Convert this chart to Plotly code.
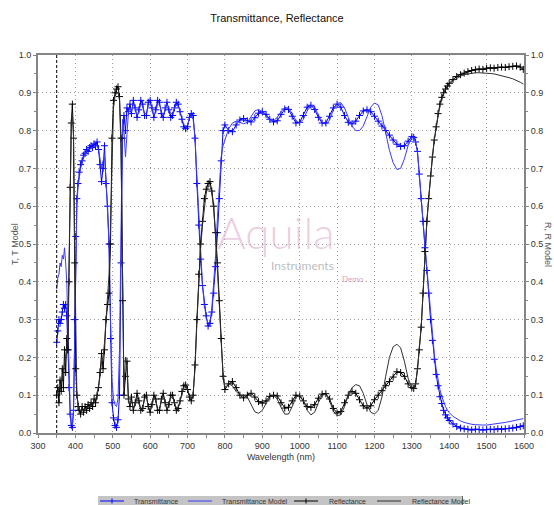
import plotly.graph_objects as go

# ---------------- data ----------------
wavelength = [
    350, 353, 356, 359, 362, 365, 368, 371, 374, 377, 380, 383, 386, 389, 392, 395, 398, 401, 404, 407,
    410, 414, 418, 422, 426, 430, 434, 438, 442, 446, 450, 454, 458, 462, 466, 470, 474, 478, 482, 486,
    490, 494, 498, 502, 506, 510, 514, 518, 522, 526, 530, 534, 538, 542,
    546, 550, 555, 560, 565, 570, 575, 580, 585, 590, 595, 600, 605, 610, 615, 620, 625, 630, 635, 640,
    645, 650, 655, 660, 665, 670, 675, 680, 685, 690, 695, 700, 705, 710, 715, 720, 725, 730, 735, 740,
    745, 750, 755, 760, 765, 770, 775, 780, 785, 790, 795, 800,
    810, 820, 830, 840, 850, 860, 870, 880, 890, 900, 910, 920, 930, 940, 950, 960, 970, 980, 990, 1000,
    1010, 1020, 1030, 1040, 1050, 1060, 1070, 1080, 1090, 1100, 1110, 1120, 1130, 1140, 1150, 1160, 1170, 1180, 1190, 1200,
    1210, 1220, 1230, 1240, 1250, 1260, 1270, 1280, 1290, 1300,
    1305, 1310, 1315, 1320, 1325, 1330, 1335, 1340, 1345, 1350, 1355, 1360, 1365, 1370, 1375, 1380, 1385, 1390, 1395, 1400,
    1410, 1420, 1430, 1440, 1450, 1460, 1470, 1480, 1490, 1500, 1510, 1520, 1530, 1540, 1550, 1560, 1570, 1580, 1590, 1598,
]

transmittance = [
    0.24, 0.27, 0.30, 0.29, 0.30, 0.32, 0.34, 0.33, 0.34, 0.31, 0.22, 0.12, 0.05, 0.02, 0.015, 0.06, 0.30, 0.52, 0.62, 0.66,
    0.69, 0.71, 0.72, 0.735, 0.74, 0.75, 0.745, 0.755, 0.76, 0.755, 0.765, 0.76, 0.77, 0.75, 0.71, 0.665, 0.70, 0.76, 0.66, 0.60,
    0.50, 0.25, 0.08, 0.04, 0.02, 0.015, 0.035, 0.10, 0.45, 0.78, 0.84, 0.80, 0.86, 0.85,
    0.87, 0.845, 0.88, 0.86, 0.835, 0.855, 0.88, 0.87, 0.84, 0.84, 0.875, 0.88, 0.86, 0.835, 0.855, 0.88, 0.875, 0.845, 0.835, 0.86,
    0.875, 0.855, 0.835, 0.84, 0.86, 0.875, 0.87, 0.85, 0.83, 0.81, 0.805, 0.81, 0.835, 0.845, 0.84, 0.78, 0.66, 0.55, 0.46, 0.39,
    0.34, 0.31, 0.283, 0.29, 0.32, 0.37, 0.44, 0.53, 0.62, 0.72, 0.80, 0.815,
    0.80, 0.797, 0.815, 0.828, 0.832, 0.826, 0.823, 0.834, 0.846, 0.85, 0.843, 0.83, 0.823, 0.826, 0.843, 0.857, 0.856, 0.838, 0.82, 0.822,
    0.84, 0.862, 0.867, 0.856, 0.835, 0.82, 0.82, 0.838, 0.86, 0.87, 0.862, 0.84, 0.822, 0.818, 0.825, 0.84, 0.852, 0.855, 0.85, 0.838,
    0.825, 0.812, 0.80, 0.788, 0.775, 0.764, 0.758, 0.76, 0.772, 0.784,
    0.782, 0.77, 0.745, 0.685, 0.62, 0.56, 0.49, 0.43, 0.37, 0.30, 0.245, 0.195, 0.155, 0.125, 0.096, 0.078, 0.06, 0.048, 0.04, 0.033,
    0.024, 0.017, 0.013, 0.011, 0.010, 0.008, 0.010, 0.009, 0.008, 0.009, 0.010, 0.009, 0.011, 0.010, 0.011, 0.012, 0.013, 0.015, 0.017, 0.019,
]

transmittance_model = [
    0.38, 0.41, 0.42, 0.45, 0.44, 0.47, 0.46, 0.49, 0.45, 0.40, 0.28, 0.16, 0.07, 0.03, 0.02, 0.06, 0.28, 0.50, 0.60, 0.65,
    0.68, 0.70, 0.715, 0.73, 0.74, 0.745, 0.75, 0.75, 0.755, 0.755, 0.76, 0.76, 0.76, 0.75, 0.73, 0.70, 0.72, 0.73, 0.67, 0.59,
    0.50, 0.30, 0.14, 0.09, 0.075, 0.07, 0.09, 0.22, 0.60, 0.83, 0.80, 0.73, 0.79, 0.85,
    0.86, 0.85, 0.87, 0.86, 0.84, 0.85, 0.87, 0.865, 0.845, 0.845, 0.865, 0.87, 0.86, 0.84, 0.85, 0.87, 0.87, 0.85, 0.84, 0.855,
    0.87, 0.86, 0.845, 0.845, 0.86, 0.868, 0.865, 0.85, 0.835, 0.815, 0.81, 0.815, 0.832, 0.84, 0.83, 0.78, 0.68, 0.57, 0.47, 0.39,
    0.34, 0.305, 0.29, 0.295, 0.33, 0.39, 0.47, 0.57, 0.66, 0.73, 0.76, 0.775,
    0.805, 0.82, 0.825, 0.822, 0.818, 0.822, 0.838, 0.852, 0.856, 0.85, 0.838, 0.828, 0.826, 0.835, 0.85, 0.861, 0.86, 0.845, 0.826, 0.82,
    0.83, 0.852, 0.866, 0.862, 0.842, 0.822, 0.816, 0.828, 0.855, 0.872, 0.874, 0.86, 0.835, 0.812, 0.80, 0.80, 0.812, 0.838, 0.862, 0.873,
    0.868, 0.84, 0.79, 0.748, 0.715, 0.697, 0.70, 0.725, 0.76, 0.782,
    0.782, 0.77, 0.745, 0.69, 0.625, 0.56, 0.495, 0.44, 0.375, 0.31, 0.26, 0.21, 0.17, 0.14, 0.115, 0.097, 0.082, 0.07, 0.061, 0.054,
    0.044, 0.037, 0.032, 0.028, 0.025, 0.023, 0.022, 0.021, 0.021, 0.021, 0.022, 0.023, 0.024, 0.026, 0.028, 0.030, 0.032, 0.034, 0.036, 0.038,
]

reflectance = [
    0.10, 0.12, 0.08, 0.14, 0.11, 0.17, 0.12, 0.22, 0.16, 0.25, 0.22, 0.40, 0.65, 0.82, 0.87, 0.78, 0.45, 0.17, 0.10, 0.07,
    0.06, 0.05, 0.07, 0.055, 0.07, 0.06, 0.075, 0.065, 0.08, 0.07, 0.09, 0.08, 0.10, 0.12, 0.16, 0.21, 0.17, 0.22, 0.30, 0.34,
    0.37, 0.50, 0.78, 0.88, 0.90, 0.91, 0.916, 0.89, 0.78, 0.35, 0.10, 0.15, 0.19, 0.09,
    0.07, 0.095, 0.06, 0.08, 0.105, 0.085, 0.06, 0.065, 0.095, 0.10, 0.07, 0.055, 0.075, 0.10, 0.09, 0.06, 0.06, 0.09, 0.105, 0.08,
    0.06, 0.075, 0.10, 0.10, 0.08, 0.06, 0.065, 0.085, 0.11, 0.125, 0.127, 0.115, 0.095, 0.085, 0.10, 0.18, 0.30, 0.42, 0.50, 0.56,
    0.62, 0.645, 0.66, 0.665, 0.64, 0.60, 0.53, 0.45, 0.35, 0.25, 0.15, 0.115,
    0.13, 0.136, 0.12, 0.10, 0.093, 0.10, 0.105, 0.095, 0.083, 0.079, 0.085, 0.097, 0.10, 0.098, 0.08, 0.066, 0.068, 0.085, 0.10, 0.098,
    0.085, 0.07, 0.068, 0.075, 0.092, 0.103, 0.104, 0.09, 0.065, 0.053, 0.057, 0.08, 0.10, 0.11, 0.105, 0.088, 0.072, 0.066, 0.072, 0.088,
    0.10, 0.112, 0.125, 0.136, 0.148, 0.162, 0.16, 0.15, 0.13, 0.12,
    0.118, 0.13, 0.17, 0.22, 0.28, 0.37, 0.48, 0.56, 0.62, 0.68, 0.73, 0.775, 0.81, 0.845, 0.87, 0.888, 0.90, 0.91, 0.918, 0.925,
    0.935, 0.943, 0.948, 0.952, 0.956, 0.959, 0.961, 0.963, 0.962, 0.965, 0.966, 0.965, 0.967, 0.968, 0.967, 0.969, 0.970, 0.971, 0.968, 0.962,
]

reflectance_model = [
    0.11, 0.11, 0.12, 0.12, 0.13, 0.15, 0.16, 0.18, 0.20, 0.22, 0.27, 0.45, 0.68, 0.81, 0.845, 0.79, 0.50, 0.20, 0.10, 0.075,
    0.065, 0.06, 0.06, 0.06, 0.065, 0.065, 0.07, 0.07, 0.075, 0.08, 0.085, 0.09, 0.10, 0.12, 0.15, 0.19, 0.20, 0.24, 0.30, 0.36,
    0.42, 0.55, 0.75, 0.86, 0.89, 0.90, 0.90, 0.88, 0.75, 0.33, 0.12, 0.20, 0.17, 0.08,
    0.075, 0.085, 0.065, 0.075, 0.095, 0.08, 0.062, 0.065, 0.09, 0.095, 0.07, 0.06, 0.07, 0.095, 0.085, 0.062, 0.062, 0.085, 0.10, 0.08,
    0.063, 0.07, 0.095, 0.095, 0.078, 0.065, 0.068, 0.085, 0.105, 0.12, 0.125, 0.115, 0.10, 0.09, 0.105, 0.17, 0.29, 0.40, 0.49, 0.55,
    0.60, 0.635, 0.65, 0.655, 0.635, 0.59, 0.52, 0.44, 0.34, 0.24, 0.16, 0.12,
    0.13, 0.125, 0.11, 0.10, 0.10, 0.095, 0.075, 0.056, 0.052, 0.06, 0.078, 0.095, 0.10, 0.09, 0.068, 0.05, 0.05, 0.07, 0.095, 0.10,
    0.085, 0.06, 0.048, 0.055, 0.08, 0.10, 0.102, 0.085, 0.058, 0.046, 0.048, 0.07, 0.10, 0.12, 0.128, 0.125, 0.105, 0.075, 0.055, 0.05,
    0.06, 0.095, 0.15, 0.20, 0.228, 0.235, 0.225, 0.19, 0.145, 0.12,
    0.118, 0.13, 0.165, 0.22, 0.28, 0.37, 0.475, 0.555, 0.62, 0.68, 0.73, 0.775, 0.81, 0.84, 0.865, 0.885, 0.898, 0.908, 0.916, 0.922,
    0.932, 0.939, 0.944, 0.948, 0.950, 0.952, 0.953, 0.953, 0.953, 0.952, 0.951, 0.950, 0.948, 0.946, 0.943, 0.940, 0.937, 0.933, 0.928, 0.923,
]

series_names = ["Transmittance", "Transmittance Model", "Reflectance", "Reflectance Model"]
x_ticks = [300, 400, 500, 600, 700, 800, 900, 1000, 1100, 1200, 1300, 1400, 1500, 1600]
y_ticks = [0.0, 0.1, 0.2, 0.3, 0.4, 0.5, 0.6, 0.7, 0.8, 0.9, 1.0]
y_tick_labels = ["0.0", "0.1", "0.2", "0.3", "0.4", "0.5", "0.6", "0.7", "0.8", "0.9", "1.0"]
start_marker = 350

for name, arr in [("T", transmittance), ("Tm", transmittance_model), ("R", reflectance), ("Rm", reflectance_model)]:
    assert len(arr) == len(wavelength), (name, len(arr), len(wavelength))

# ---------------- figure ----------------
FONT = "Liberation Sans, Arial, sans-serif"
BLUE = "#0000ff"
BLUE_MODEL = "#3a3aff"
BLACK = "#000000"
BLACK_MODEL = "#303030"

W, H = 554, 505
ML, MR, MT, MB = 38, 30, 55, 72
PW, PH = W - ML - MR, H - MT - MB


def px(x):
    return (x - ML) / PW


def py(y):
    return (H - MB - y) / PH


fig = go.Figure()
fig.add_trace(go.Scatter(
    x=wavelength, y=transmittance, name=series_names[0], mode="lines+markers",
    line=dict(color=BLUE, width=1),
    marker=dict(symbol="cross-thin", size=5, line=dict(color=BLUE, width=1), color=BLUE),
))
fig.add_trace(go.Scatter(
    x=wavelength, y=transmittance_model, name=series_names[1], mode="lines",
    line=dict(color=BLUE_MODEL, width=1),
))
fig.add_trace(go.Scatter(
    x=wavelength, y=reflectance, name=series_names[2], mode="lines+markers", yaxis="y2",
    line=dict(color=BLACK, width=1),
    marker=dict(symbol="cross-thin", size=5, line=dict(color=BLACK, width=1), color=BLACK),
))
fig.add_trace(go.Scatter(
    x=wavelength, y=reflectance_model, name=series_names[3], mode="lines", yaxis="y2",
    line=dict(color=BLACK_MODEL, width=1),
))

axis_line = "#858585"
grid = "#a0a0a0"
tickfont = dict(family=FONT, size=9, color="#333333")

fig.update_layout(
    width=W, height=H,
    margin=dict(l=ML, r=MR, t=MT, b=MB, autoexpand=False),
    paper_bgcolor="white", plot_bgcolor="white",
    font=dict(family=FONT, size=9, color="#222222"),
    showlegend=False,
    title=dict(text="Transmittance, Reflectance", x=0.5, xanchor="center",
               y=1 - 18 / H, yanchor="middle", font=dict(family=FONT, size=11, color="#111111")),
    xaxis=dict(
        range=[300, 1600], tickvals=x_ticks, ticktext=[str(v) for v in x_ticks],
        showgrid=True, gridcolor=grid, griddash="1px,3px", gridwidth=1,
        showline=True, linecolor=axis_line, linewidth=2, mirror=True,
        ticks="outside", ticklen=3, tickcolor=axis_line,
        minor=dict(dtick=50, tick0=300, ticks="outside", ticklen=3, tickcolor=axis_line, showgrid=False),
        zeroline=False, automargin=False,
        title=dict(text="Wavelength (nm)", font=dict(family=FONT, size=9, color="#333333"), standoff=4),
        tickfont=tickfont,
    ),
    yaxis=dict(
        range=[0, 1], tickvals=y_ticks, ticktext=y_tick_labels,
        showgrid=True, gridcolor=grid, griddash="1px,3px", gridwidth=1,
        showline=True, linecolor=axis_line, linewidth=2,
        ticks="outside", ticklen=3, tickcolor=axis_line,
        minor=dict(dtick=0.05, ticks="outside", ticklen=2, tickcolor=axis_line, showgrid=False),
        zeroline=False, automargin=False,
        tickfont=tickfont,
    ),
    yaxis2=dict(
        range=[0, 1], tickvals=y_ticks, ticktext=y_tick_labels, overlaying="y", side="right",
        showgrid=False, showline=True, linecolor=axis_line, linewidth=2,
        ticks="outside", ticklen=3, tickcolor=axis_line,
        minor=dict(dtick=0.05, ticks="outside", ticklen=2, tickcolor=axis_line, showgrid=False),
        zeroline=False, automargin=False,
        tickfont=tickfont,
    ),
)

# dashed marker line at the start of the measurement
fig.add_shape(type="line", xref="x", yref="paper", x0=start_marker, x1=start_marker, y0=0, y1=1,
              line=dict(color="#000000", width=1, dash="3px,2px"))

# axis titles (left reads upward, right reads downward)
fig.add_annotation(text="T, T Model", xref="paper", yref="paper", x=px(15), y=0.5,
                   xanchor="center", yanchor="middle",
                   showarrow=False, textangle=-90, font=dict(family=FONT, size=9, color="#555555"))
fig.add_annotation(text="R, R Model", xref="paper", yref="paper", x=px(548), y=0.5,
                   xanchor="center", yanchor="middle",
                   showarrow=False, textangle=90, font=dict(family=FONT, size=9, color="#555555"))

# watermark
fig.add_annotation(text="Aquila", xref="paper", yref="paper", x=px(276), y=py(232), showarrow=False,
                   xanchor="center", yanchor="middle",
                   font=dict(family="Lato, sans-serif", size=44, weight=300, color="rgba(214,160,195,0.5)"))
fig.add_annotation(text="Instruments", xref="paper", yref="paper", x=px(302), y=py(265), showarrow=False,
                   xanchor="center", yanchor="middle",
                   font=dict(family="Lato, sans-serif", size=12, color="rgba(120,120,120,0.5)"))
fig.add_annotation(text="Demo", xref="paper", yref="paper", x=px(353), y=py(279), showarrow=False,
                   xanchor="center", yanchor="middle",
                   font=dict(family="Lato, sans-serif", size=8, color="rgba(214,130,175,0.8)"))

# legend bar at the bottom (drawn by hand to match the compact original)
bar_l, bar_r, bar_t, bar_b, row_y = 98, 463, 496, 505, 501
fig.add_shape(type="rect", xref="paper", yref="paper", x0=px(bar_l), x1=px(bar_r), y0=py(bar_b), y1=py(bar_t),
              fillcolor="#c4c4c4", line=dict(width=0), layer="below")
fig.add_shape(type="line", xref="paper", yref="paper", x0=px(bar_r - 0.5), x1=px(bar_r - 0.5),
              y0=py(bar_b), y1=py(bar_t), line=dict(color="#606060", width=1))
legend_items = [
    (series_names[0], BLUE, True, 100, 132),
    (series_names[1], BLUE_MODEL, False, 188, 220),
    (series_names[2], BLACK, True, 294, 327),
    (series_names[3], BLACK_MODEL, False, 377, 410),
]
for label, color, cross, x0, tx in legend_items:
    fig.add_shape(type="line", xref="paper", yref="paper", x0=px(x0), x1=px(x0 + 24),
                  y0=py(row_y), y1=py(row_y), line=dict(color=color, width=1))
    if cross:
        fig.add_shape(type="line", xref="paper", yref="paper", x0=px(x0 + 12), x1=px(x0 + 12),
                      y0=py(row_y - 2.5), y1=py(row_y + 2.5), line=dict(color=color, width=1))
    fig.add_annotation(text=label, xref="paper", yref="paper", x=px(tx), y=py(row_y),
                       xanchor="left", yanchor="middle", showarrow=False,
                       font=dict(family=FONT, size=7, color="#333333"))

fig.write_html("out.html", config={"displayModeBar": False},
               post_script="document.body.style.margin='0';document.body.style.padding='0';")
